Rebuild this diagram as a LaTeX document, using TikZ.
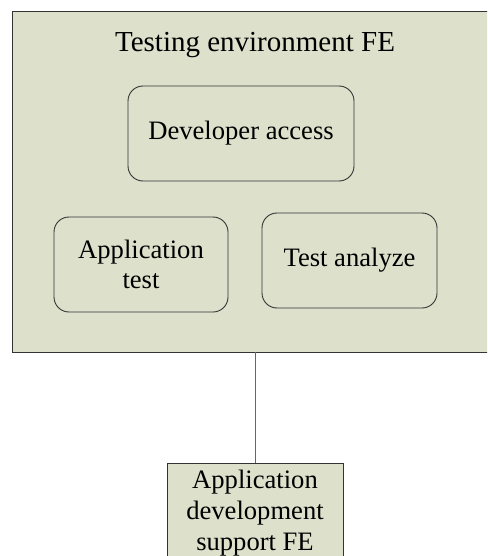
\documentclass[tikz,border=0pt]{standalone}
\usepackage{fontspec}
\setmainfont{Liberation Serif}
\definecolor{feback}{RGB}{221,224,203}
\begin{document}
\begin{tikzpicture}[x=1pt,y=-1pt]
  \tikzstyle{fe} = [draw=black!80, fill=feback, line width=0.9pt, inner sep=0pt]
  \tikzstyle{b} = [draw=black!80, rounded corners=15pt, line width=0.9pt, align=center, inner sep=0pt, font=\fontsize{26.6}{30}\selectfont]
  \tikzstyle{e} = [draw=black!60, line width=0.9pt];
  \useasboundingbox (0,0) rectangle (487,556);
  \clip (0,0) rectangle (487,556);
  \node[fe, minimum width=486, minimum height=341](env) at (255,181.5){};
  \node[anchor=base, font=\fontsize{29}{34}\selectfont](title) at (255,52){Testing environment FE};

  \node[b, minimum width=226, minimum height=95](dev) at (241,133.5){Developer access};
  \node[b, minimum width=174, minimum height=95](app) at (141,264.5){Application\\test};
  \node[b, minimum width=175, minimum height=95](ana) at (349.5,260.5){Test analyze};

  \node[fe, anchor=north, minimum width=176, minimum height=110, inner ysep=7pt, align=center, font=\fontsize{26.6}{31}\selectfont, text depth=20pt](ads) at (255,463){Application\\development\\support FE};

  \draw[e](env.south)--(ads.north);

  \end{tikzpicture}
\end{document}
